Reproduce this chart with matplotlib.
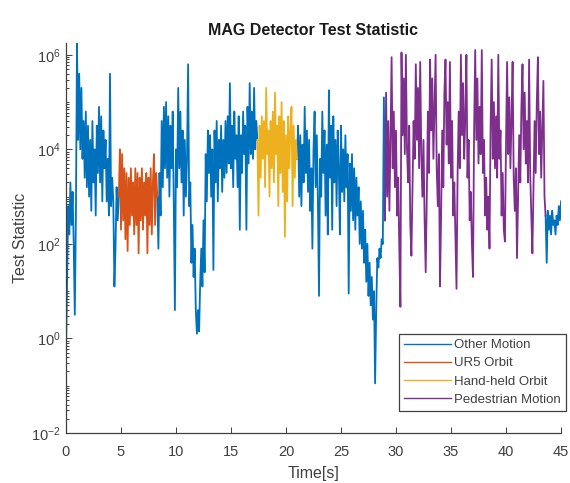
import matplotlib
matplotlib.use('Agg')
import matplotlib.pyplot as plt
from matplotlib.ticker import FixedLocator, LogLocator, NullFormatter
import numpy as np

# log10 of the test statistic, one value every 0.1 s
dt = 0.1

other_start_1 = 0.0
other_1 = [-0.3, 1.2, 2.8, 2.2, 3.3, 2.4, 3.1, 2.0, 0.5, 2.6,
           6.25, 4.2, 5.6, 4.0, 5.3, 3.8, 4.6, 3.4, 4.8, 3.2,
           4.5, 3.0, 4.2, 2.7, 4.6, 3.3, 4.0, 2.6, 4.5, 3.5,
           4.9, 3.3, 4.7, 2.9, 4.4, 3.6, 4.2, 2.9, 3.8, 2.6,
           5.6, 2.8, 3.4, 2.9, 1.1, 1.9, 3.2, 2.5, 3.0]

ur5_start = 4.8
ur5 = [3.0, 4.0, 2.3, 3.9, 2.5, 3.6, 2.1, 3.5, 1.85, 3.4,
       2.4, 3.6, 2.6, 3.3, 2.2, 3.6, 2.4, 3.5, 1.8, 3.4,
       2.5, 3.6, 2.3, 3.3, 2.6, 3.5, 1.8, 3.4, 2.4, 3.6,
       2.2, 3.3, 3.9, 2.4, 3.5, 3.0]

other_start_2 = 8.3
other_2 = [3.0, 1.9, 3.5, 2.6, 4.6, 3.2, 4.9, 3.6, 5.0, 3.4,
           4.7, 3.0, 4.5, 3.6, 4.8, 2.8, 0.6, 4.0, 3.2, 5.3,
           3.6, 4.8, 3.3, 4.4, 2.6, 4.2, 3.0, 3.8, 5.8, 2.8,
           3.3, 1.6, 2.4, 1.3, 1.9, 0.6, 0.1, 0.6, 0.15, 1.2,
           1.9, 1.1, 2.5, 1.4, 3.9, 2.9, 4.4, 3.5, 4.3, 3.0,
           4.0, 1.45, 4.4, 3.3, 4.6, 2.9, 4.2, 3.6, 4.5, 3.1,
           4.2, 3.4, 4.6, 3.5, 4.7, 3.7, 5.4, 3.6, 4.5, 3.2,
           4.8, 3.8, 4.3, 3.2, 4.7, 2.3, 4.3, 3.5, 4.8, 3.9,
           4.5, 2.3, 4.9, 3.7, 5.4, 3.9, 4.8, 3.8, 5.3, 4.0,
           4.6, 4.2]

handheld_start = 17.4
handheld = [4.2, 2.6, 4.5, 3.4, 4.7, 3.8, 4.6, 3.2, 5.3, 3.9,
            4.4, 3.0, 4.6, 3.6, 4.8, 3.3, 5.2, 3.9, 4.5, 2.8,
            4.7, 3.5, 5.0, 3.1, 4.6, 2.15, 4.3, 2.9, 4.7, 3.6,
            4.4, 4.9, 2.8, 4.5, 3.4, 4.2, 3.8]

other_start_3 = 21.0
other_3 = [3.8, 4.5, 3.0, 4.3, 2.8, 4.1, 3.3, 4.9, 3.5, 4.4,
           3.1, 4.2, 2.7, 3.6, 1.9, 4.0, 4.8, 3.2, 4.3, 2.9,
           0.9, 3.8, 3.0, 4.8, 3.5, 4.4, 2.6, 4.1, 2.2, 5.25,
           3.4, 4.5, 2.3, 4.7, 3.3, 4.2, 2.8, 4.4, 3.6, 2.2,
           4.5, 3.1, 4.0, 2.9, 4.3, 3.2, 3.9, 0.95, 3.7, 2.7,
           3.9, 2.5, 3.6, 2.3, 3.4, 2.6, 3.2, 2.0, 2.9, 1.9,
           2.7, 1.6, 2.3, 1.2, 2.0, 0.9, 1.6, 0.7, 1.3, 0.4,
           1.0, -0.95, 0.6, 1.7, 1.5, 1.9, 1.7, 2.1, 2.0, 5.1,
           2.5]

pedestrian_start = 29.0
pedestrian = [2.5, 5.2, 3.0, 4.6, 2.7, 4.2, 5.95, 3.6, 4.8, 3.2,
              4.4, 2.6, 3.4, 1.9, 0.67, 6.05, 4.3, 5.5, 3.9, 6.0,
              4.0, 3.3, 4.5, 2.4, 1.75, 3.2, 4.6, 3.8, 5.8, 4.2,
              5.3, 3.6, 5.85, 3.9, 3.0, 4.2, 2.5, 1.4, 3.0, 4.8,
              3.5, 5.9, 4.4, 5.5, 3.8, 4.9, 6.0, 3.6, 2.8, 3.9,
              1.1, 2.6, 4.4, 3.2, 5.2, 5.9, 4.1, 5.0, 3.7, 5.85,
              3.4, 4.6, 2.6, 3.3, 2.2, 1.05, 3.5, 4.8, 3.6, 6.0,
              4.3, 5.4, 3.8, 4.7, 6.0, 3.4, 4.2, 2.5, 3.1, 2.0,
              1.3, 4.4, 6.1, 4.2, 5.5, 3.7, 4.9, 3.9, 6.1, 3.5,
              4.2, 2.6, 3.4, 2.3, 3.0, 1.9, 4.5, 5.9, 3.8, 5.0,
              3.6, 4.7, 3.4, 6.0, 3.8, 4.4, 2.6, 3.5, 2.3, 2.05,
              4.1, 5.85, 3.9, 5.1, 3.6, 4.6, 5.85, 3.4, 2.7, 3.6,
              1.7, 3.0, 4.3, 3.3, 4.9, 5.8, 4.0, 5.2, 3.7, 4.6,
              3.3, 5.9, 3.5, 2.6, 1.8, 3.2, 4.6, 3.5, 5.0, 5.95,
              3.9, 4.8, 3.4, 4.4, 5.45, 3.0, 2.6]

other_start_4 = 43.6
other_4 = [2.6, 1.6, 2.7, 2.3, 2.6, 2.2, 2.7, 2.4, 2.5, 2.2,
           2.6, 2.4, 2.8, 2.5, 2.9]

x_ticks = [0, 5, 10, 15, 20, 25, 30, 35, 40, 45]
y_ticks = [1e-2, 1e0, 1e2, 1e4, 1e6]

c_other = '#0072BD'
c_ur5 = '#D95319'
c_hand = '#EDB120'
c_ped = '#7E2F8E'
text_color = '#404040'


def draw_segment(ax, start, log_values, color, label=None):
    t = start + dt * np.arange(len(log_values))
    y = 10.0 ** np.array(log_values)
    return ax.plot(t, y, color=color, linewidth=1.3, label=label)[0]


plt.rcParams['font.family'] = ['Liberation Sans', 'DejaVu Sans']

fig = plt.figure(figsize=(5.70, 4.83), dpi=100)
ax = fig.add_axes([66 / 570, 50 / 483, 495 / 570, 390 / 483])

h_other = draw_segment(ax, other_start_1, other_1, c_other, 'Other Motion')
draw_segment(ax, other_start_2, other_2, c_other)
draw_segment(ax, other_start_3, other_3, c_other)
draw_segment(ax, other_start_4, other_4, c_other)
h_ur5 = draw_segment(ax, ur5_start, ur5, c_ur5, 'UR5 Orbit')
h_hand = draw_segment(ax, handheld_start, handheld, c_hand, 'Hand-held Orbit')
h_ped = draw_segment(ax, pedestrian_start, pedestrian, c_ped, 'Pedestrian Motion')

ax.set_yscale('log')
ax.set_xlim(0, 45)
ax.set_ylim(1e-2, 10 ** 6.25)
ax.set_xticks(x_ticks)
ax.yaxis.set_major_locator(FixedLocator(y_ticks))
ax.yaxis.set_minor_locator(LogLocator(base=10, subs=np.arange(1, 10), numticks=50))
ax.yaxis.set_minor_formatter(NullFormatter())

for side in ['top', 'right']:
    ax.spines[side].set_visible(False)
for side in ['left', 'bottom']:
    ax.spines[side].set_color(text_color)
    ax.spines[side].set_linewidth(0.9)

ax.tick_params(axis='both', which='both', direction='in', colors=text_color,
               labelsize=10.5, width=0.7)
ax.tick_params(axis='both', which='major', length=4)
ax.tick_params(axis='y', which='minor', length=2)
ax.tick_params(axis='x', which='major', pad=9)
ax.tick_params(axis='y', which='major', pad=4)

ax.set_xlabel('Time[s]', fontsize=11.5, color=text_color, labelpad=5)
ax.set_ylabel('Test Statistic', fontsize=11.5, color=text_color, labelpad=2)
ax.set_title('MAG Detector Test Statistic', fontsize=11.5, fontweight='bold',
             color='#1a1a1a', pad=6)

leg = ax.legend(handles=[h_other, h_ur5, h_hand, h_ped], loc='lower right',
                bbox_to_anchor=(566 / 570, 72 / 483), bbox_transform=fig.transFigure,
                borderaxespad=0, fontsize=9.5, handlelength=3.6, handletextpad=0.2,
                labelspacing=0.45, fancybox=False, framealpha=1,
                edgecolor=text_color, borderpad=0.4)
leg.get_frame().set_linewidth(0.9)
for line in leg.get_lines():
    line.set_linewidth(1.0)
for text in leg.get_texts():
    text.set_color(text_color)

fig.savefig('out.png', dpi=100)
plt.close(fig)
